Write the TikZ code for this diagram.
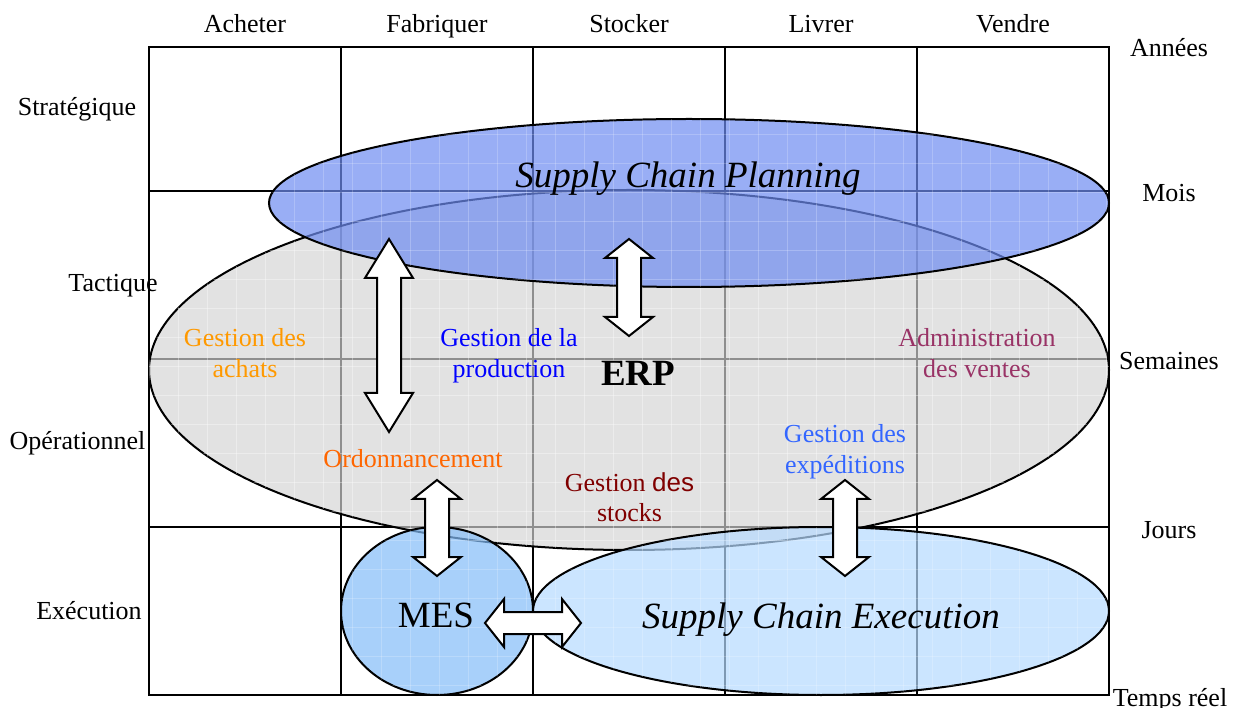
\documentclass[tikz,border=0pt]{standalone}
\usepackage{fontspec}
\setmainfont{Liberation Serif}
\newfontfamily\arialfont{Liberation Sans}
\usetikzlibrary{shapes.geometric}

\definecolor{erpfill}{RGB}{213,213,213}
\definecolor{scpfill}{RGB}{110,140,241}
\definecolor{mesfill}{RGB}{132,189,248}
\definecolor{scefill}{RGB}{182,218,255}
\definecolor{cachats}{RGB}{255,153,0}
\definecolor{cprod}{RGB}{0,0,255}
\definecolor{cordo}{RGB}{255,102,0}
\definecolor{cstocks}{RGB}{128,0,0}
\definecolor{cexped}{RGB}{51,102,255}
\definecolor{cventes}{RGB}{153,51,102}

% double block arrow, vertical: #1 x, #2 top tip, #3 bottom tip, #4 head length
\newcommand\vblockarrow[4]{%
  \draw[blockarrow] (#1,#2) -- (#1+24,#2+#4) -- (#1+12,#2+#4) -- (#1+12,#3-#4)
    -- (#1+24,#3-#4) -- (#1,#3) -- (#1-24,#3-#4) -- (#1-12,#3-#4)
    -- (#1-12,#2+#4) -- (#1-24,#2+#4) -- cycle;}
% double block arrow, horizontal: #1 y, #2 left tip, #3 right tip, #4 head length
\newcommand\hblockarrow[4]{%
  \draw[blockarrow] (#2,#1) -- (#2+#4,#1-24) -- (#2+#4,#1-11) -- (#3-#4,#1-11)
    -- (#3-#4,#1-24) -- (#3,#1) -- (#3-#4,#1+24) -- (#3-#4,#1+11)
    -- (#2+#4,#1+11) -- (#2+#4,#1+24) -- cycle;}
% faint fill texture inside an ellipse
\newcommand\fabric[5]{%
  \begin{scope}
    \clip (#1,#2) ellipse [x radius=#3, y radius=#4];
    \foreach \gx in {0,...,34} \draw[#5] ({149+29*\gx},40) -- ({149+29*\gx},700);
    \foreach \gy in {0,...,23} \draw[#5] (140,{47+29*\gy}) -- (1115,{47+29*\gy});
  \end{scope}}

\begin{document}
\begin{tikzpicture}[x=1pt,y=-1pt,
  gridline/.style={line width=1.6pt,black},
  zone/.style={ellipse,draw=black,line width=2pt,inner sep=0pt},
  blockarrow/.style={draw=black,fill=white,line width=2pt,line join=miter},
  lbl/.style={font=\fontsize{26}{31}\selectfont,inner sep=0pt,anchor=base},
  inlbl/.style={font=\fontsize{26}{31}\selectfont,inner sep=0pt,align=center},
  big/.style={font=\fontsize{37}{44}\selectfont,inner sep=0pt,anchor=base},
  texw/.style={white,opacity=0.35,line width=0.8pt},
  texb/.style={white,opacity=0.2,line width=0.8pt}]

\useasboundingbox (0,0) rectangle (1235,708);
\fill[white] (0,0) rectangle (1235,708);

% time / process grid
\draw[gridline] (149,47) rectangle (1109,695);
\foreach \gx in {341,533,725,917} \draw[gridline] (\gx,47) -- (\gx,695);
\foreach \gy in {191,359,527} \draw[gridline] (149,\gy) -- (1109,\gy);

% planning horizons
\node[zone,fill=erpfill,fill opacity=0.67,minimum width=960pt,minimum height=360pt] (erp) at (629,370) {};
\fabric{629}{370}{480}{180}{texw}
\node[zone,fill=scpfill,fill opacity=0.7,minimum width=840pt,minimum height=168pt] (scp) at (689,203) {};
\fabric{689}{203}{420}{84}{texb}
\node[zone,fill=mesfill,fill opacity=0.7,minimum width=192pt,minimum height=168pt] (mes) at (437,611) {};
\fabric{437}{611}{96}{84}{texb}
\node[zone,fill=scefill,fill opacity=0.7,minimum width=576pt,minimum height=168pt] (sce) at (821,611) {};
\fabric{821}{611}{288}{84}{texb}

% column heads
\node[lbl] (acheter) at (245,33) {Acheter};
\node[lbl] (fabriquer) at (437,33) {Fabriquer};
\node[lbl] (stocker) at (629,33) {Stocker};
\node[lbl] (livrer) at (821,33) {Livrer};
\node[lbl] (vendre) at (1013,33) {Vendre};

% horizons on the right
\node[lbl] (annees) at (1169,57) {Années};
\node[lbl] (mois) at (1169,202) {Mois};
\node[lbl] (semaines) at (1169,370) {Semaines};
\node[lbl] (jours) at (1169,538) {Jours};
\node[lbl] (tempsreel) at (1170,706) {Temps réel};

% decision levels on the left
\node[lbl] (strat) at (77,116) {Stratégique};
\node[lbl] (tact) at (113,292) {Tactique};
\node[lbl] (oper) at (77.5,450) {Opérationnel};
\node[lbl] (exec) at (89,619) {Exécution};

% functions
\node[inlbl,text=cachats] (achats) at (245,353) {Gestion des\\achats};
\node[inlbl,text=cprod] (prod) at (509,356) {Gestion de la\\production};
\node[inlbl,text=cventes] (ventes) at (977,353) {Administration\\des ventes};
\node[inlbl,text=cordo] (ordo) at (413,459) {Ordonnancement};
\node[inlbl,text=cstocks,font=\fontsize{26}{30}\selectfont] (stocks) at (629.5,497) {Gestion {\arialfont des}\\stocks};
\node[inlbl,text=cexped] (exped) at (845,452) {Gestion des\\expéditions};

\node[big,font=\fontsize{37}{44}\selectfont\bfseries] (erplbl) at (638,386) {ERP};
\node[big,font=\fontsize{37}{44}\selectfont\itshape] (scplbl) at (688,188) {Supply Chain Planning};
\node[big] (meslbl) at (436,627) {MES};
\node[big,font=\fontsize{37}{44}\selectfont\itshape] (scelbl) at (821,628) {Supply Chain Execution};

% exchanges between the systems
\vblockarrow{389}{239}{432}{39}
\vblockarrow{629}{239}{336}{19}
\vblockarrow{437}{480}{576}{19}
\vblockarrow{845}{480}{576}{19}
\hblockarrow{623}{485}{581}{19}
\end{tikzpicture}
\end{document}
